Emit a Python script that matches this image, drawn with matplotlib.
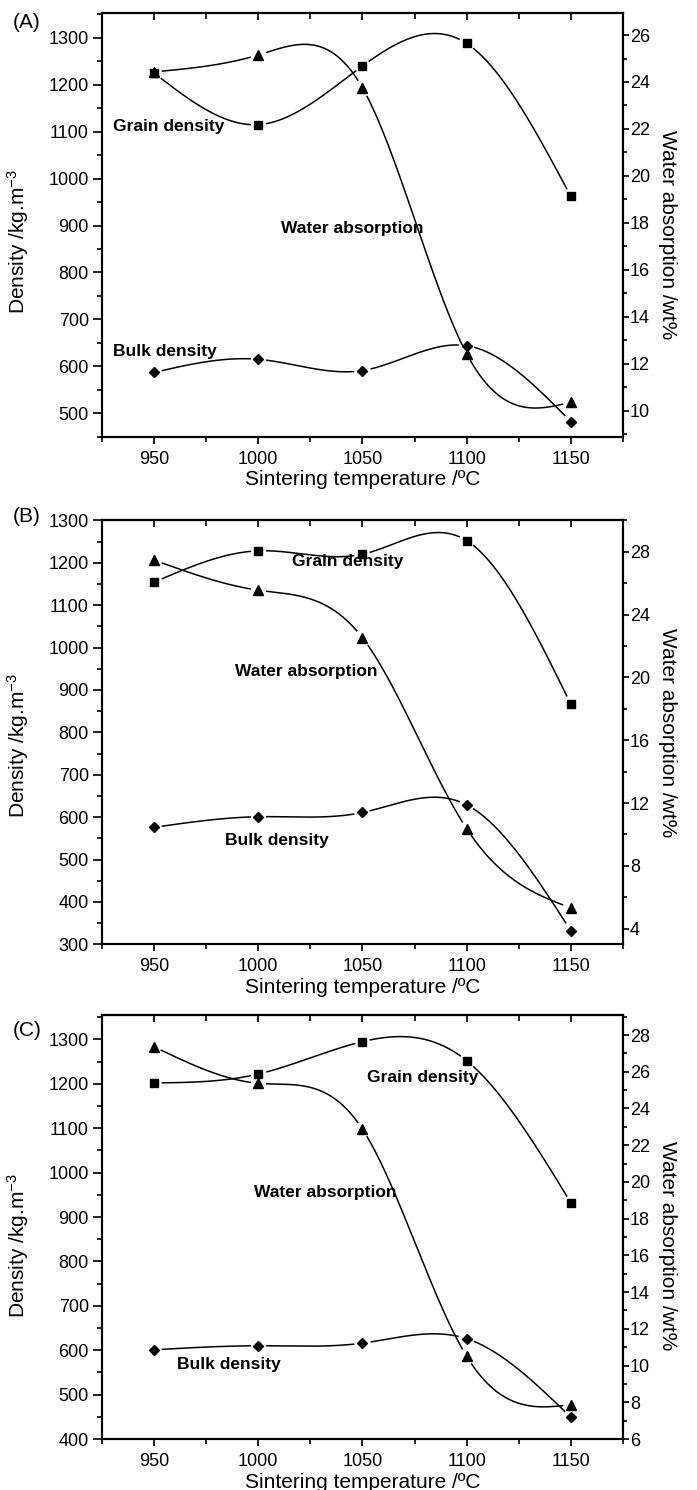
import numpy as np
import matplotlib
matplotlib.use("Agg")
import matplotlib.pyplot as plt
from matplotlib.ticker import MultipleLocator

plt.rcParams['font.family'] = ['Liberation Sans', 'DejaVu Sans']
plt.rcParams['mathtext.fontset'] = 'custom'
plt.rcParams['mathtext.rm'] = 'Liberation Sans'
plt.rcParams['mathtext.it'] = 'Liberation Sans'

# sintering temperatures (x)
temps = [950, 1000, 1050, 1100, 1150]

# panel A
grain_a = [1225, 1115, 1240, 1288, 962]
bulk_a = [587, 615, 591, 644, 482]
water_a = [24.43, 25.15, 23.75, 12.42, 10.36]

# panel B
grain_b = [1154, 1228, 1220, 1252, 866]
bulk_b = [576, 601, 611, 629, 332]
water_b = [27.47, 25.55, 22.52, 10.36, 5.32]

# panel C
grain_c = [1202, 1222, 1295, 1252, 932]
bulk_c = [601, 610, 616, 626, 449]
water_c = [27.36, 25.37, 22.87, 10.50, 7.87]


def natural_spline(x, y, n=400):
    x = np.asarray(x, float)
    y = np.asarray(y, float)
    k = len(x)
    h = np.diff(x)
    A = np.zeros((k, k))
    r = np.zeros(k)
    A[0, 0] = A[-1, -1] = 1
    for i in range(1, k - 1):
        A[i, i - 1] = h[i - 1]
        A[i, i] = 2 * (h[i - 1] + h[i])
        A[i, i + 1] = h[i]
        r[i] = 3 * ((y[i + 1] - y[i]) / h[i] - (y[i] - y[i - 1]) / h[i - 1])
    c = np.linalg.solve(A, r)
    b = (y[1:] - y[:-1]) / h - h * (2 * c[:-1] + c[1:]) / 3
    d = (c[1:] - c[:-1]) / (3 * h)
    xs = np.linspace(x[0], x[-1], n)
    idx = np.clip(np.searchsorted(x, xs, side='right') - 1, 0, k - 2)
    dx = xs - x[idx]
    ys = y[idx] + b[idx] * dx + c[idx] * dx ** 2 + d[idx] * dx ** 3
    return xs, ys


def spline_with_gaps(axis, x, y, marker, ms, gap=8):
    # origin-style curve: smooth line that stops short of each symbol
    xs, ys = natural_spline(x, y)
    tr = axis.transData
    pts = tr.transform(np.column_stack([xs, ys]))
    mk = tr.transform(np.column_stack([x, y]))
    dist = np.min(np.hypot(pts[:, None, 0] - mk[None, :, 0],
                           pts[:, None, 1] - mk[None, :, 1]), axis=1)
    ys = np.where(dist < gap, np.nan, ys)
    axis.plot(xs, ys, color='black', lw=1.1, zorder=2)
    axis.plot(x, y, ls='none', marker=marker, ms=ms, color='black', zorder=3)


fig = plt.figure(figsize=(6.97, 14.9), dpi=100)

panels = [
    dict(tag='(A)', tag_y=22, rect=[0.1463, 0.7069, 0.7475, 0.2844],
         grain=grain_a, bulk=bulk_a, water=water_a,
         ylim=(450, 1353), ymaj=100, y2lim=(8.89, 26.94), y2maj=2, y2min=1,
         ylab_y=0.46, y2lab_y=0.478,
         txt=[('Grain density', 957, 1110), ('Water absorption', 1045, 894),
              ('Bulk density', 955, 631)]),
    dict(tag='(B)', tag_y=516, rect=[0.1463, 0.3662, 0.7475, 0.2846],
         grain=grain_b, bulk=bulk_b, water=water_b,
         ylim=(300, 1300), ymaj=100, y2lim=(3, 30), y2maj=4, y2min=2,
         ylab_y=0.468, y2lab_y=0.5,
         txt=[('Grain density', 1043, 1203), ('Water absorption', 1023, 943),
              ('Bulk density', 1009, 546)]),
    dict(tag='(C)', tag_y=1031, rect=[0.1463, 0.0342, 0.7475, 0.2846],
         grain=grain_c, bulk=bulk_c, water=water_c,
         ylim=(400, 1355), ymaj=100, y2lim=(6, 29.09), y2maj=2, y2min=1,
         ylab_y=0.456, y2lab_y=0.456,
         txt=[('Grain density', 1079, 1215), ('Water absorption', 1032, 956),
              ('Bulk density', 986, 568)]),
]

for p in panels:
    ax = fig.add_axes(p['rect'])
    ax2 = ax.twinx()
    ax.set_xlim(925, 1175)
    ax.set_ylim(*p['ylim'])
    ax2.set_ylim(*p['y2lim'])

    ax.xaxis.set_major_locator(MultipleLocator(50))
    ax.xaxis.set_minor_locator(MultipleLocator(25))
    ax.yaxis.set_major_locator(MultipleLocator(p['ymaj']))
    ax.yaxis.set_minor_locator(MultipleLocator(50))
    ax2.yaxis.set_major_locator(MultipleLocator(p['y2maj']))
    ax2.yaxis.set_minor_locator(MultipleLocator(p['y2min']))

    for a in (ax, ax2):
        for s in a.spines.values():
            s.set_linewidth(1.5)

    ax.tick_params(axis='x', which='both', bottom=True, top=False,
                   direction='out', labelsize=13, width=1.2, pad=5)
    ax.tick_params(axis='x', which='major', length=5)
    ax.tick_params(axis='x', which='minor', length=3.5)
    ax.tick_params(axis='y', which='both', left=True, right=False,
                   direction='out', labelsize=13, width=1.2, pad=3)
    ax.tick_params(axis='y', which='major', length=6.5)
    ax.tick_params(axis='y', which='minor', length=3.5)
    ax2.tick_params(axis='y', which='both', direction='out', labelsize=13,
                    width=1.2, pad=1)
    ax2.tick_params(axis='y', which='major', length=4)
    ax2.tick_params(axis='y', which='minor', length=3)

    # top ticks point inward
    top = ax.secondary_xaxis('top')
    top.xaxis.set_major_locator(MultipleLocator(50))
    top.xaxis.set_minor_locator(MultipleLocator(25))
    top.tick_params(axis='x', which='both', direction='in', labeltop=False,
                    width=1.2)
    top.tick_params(axis='x', which='major', length=5)
    top.tick_params(axis='x', which='minor', length=4)
    top.spines['top'].set_linewidth(1.5)

    ax.set_xlabel('Sintering temperature /ºC', fontsize=15, labelpad=2)
    ax.set_ylabel('Density /kg.m$^{-3}$', fontsize=15)
    ax.yaxis.set_label_coords(-0.136, p['ylab_y'])
    ax2.set_ylabel('Water absorption /wt%', fontsize=15, rotation=270)
    ax2.yaxis.set_label_coords(1.103, p['y2lab_y'])

    spline_with_gaps(ax, temps, p['grain'], 's', 5.5)
    spline_with_gaps(ax, temps, p['bulk'], 'D', 5)
    spline_with_gaps(ax2, temps, p['water'], '^', 7)

    for s, x, y in p['txt']:
        ax.text(x, y, s, fontsize=12.5, fontweight='bold', ha='center',
                va='center')

    fig.text(27 / 697, 1 - p['tag_y'] / 1490, p['tag'], fontsize=15,
             ha='center', va='center')

fig.savefig('out.png', dpi=100)
